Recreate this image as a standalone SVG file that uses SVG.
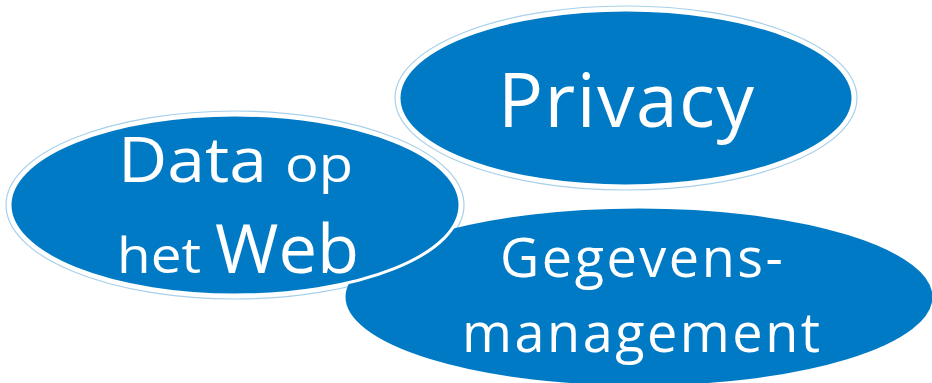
<svg xmlns="http://www.w3.org/2000/svg" width="932" height="383" viewBox="0 0 932 383">
<style>
.blob{fill:#007AC4;stroke:#ffffff;stroke-width:3}
.ring{fill:none;stroke:#0079C4;stroke-opacity:0.35;stroke-width:1.2}
.t{font-family:"Open Sans",Lato,sans-serif;fill:#ffffff}
</style>
<rect width="932" height="383" fill="#ffffff"/>
<g id="connectors"></g>
<g id="gegevensmanagement">
<ellipse class="blob" cx="639" cy="297" rx="295" ry="90"/>
<text class="t" x="500" y="277" font-size="54" textLength="283" lengthAdjust="spacing">Gegevens-</text>
<text class="t" x="462" y="352" font-size="54" textLength="358" lengthAdjust="spacing">management</text>
</g>
<g id="privacy">
<ellipse class="ring" cx="626" cy="98" rx="231" ry="92"/>
<ellipse class="blob" cx="626" cy="98" rx="227" ry="88"/>
<text class="t" x="498" y="127" font-size="75" textLength="256" lengthAdjust="spacing">Privacy</text>
</g>
<g id="data-op-het-web">
<ellipse class="ring" cx="235" cy="205" rx="229" ry="94"/>
<ellipse class="blob" cx="235" cy="205" rx="225" ry="90" stroke-width="4"/>
<text class="t" x="118" y="182" font-size="62" textLength="149" lengthAdjust="spacingAndGlyphs">Data</text>
<text class="t" x="285" y="182" font-size="50" textLength="68" lengthAdjust="spacingAndGlyphs">op</text>
<text class="t" x="117" y="273" font-size="50" textLength="84" lengthAdjust="spacingAndGlyphs">het</text>
<text class="t" x="215" y="273" font-size="67" textLength="144" lengthAdjust="spacingAndGlyphs">Web</text>
</g>
</svg>
